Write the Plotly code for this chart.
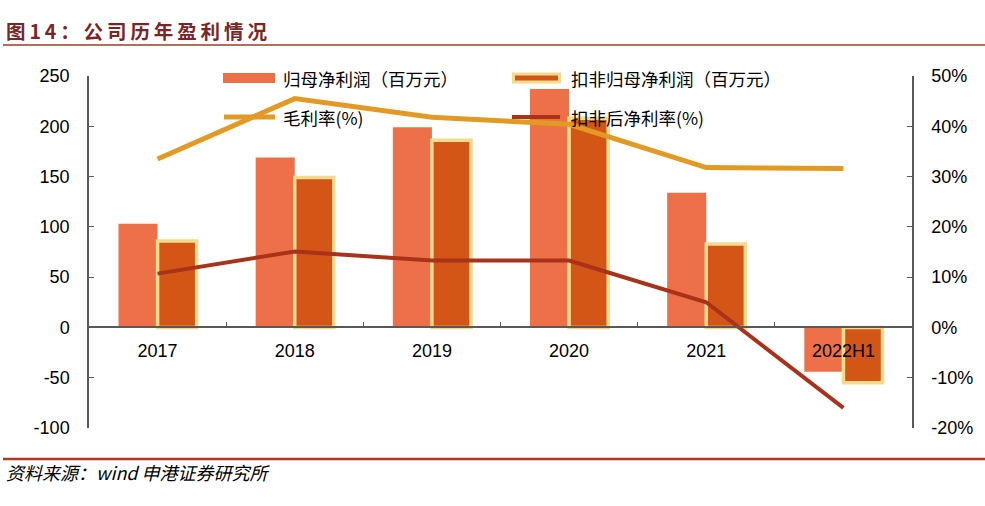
import plotly.graph_objects as go

# ---- data ----
categories = ["2017", "2018", "2019", "2020", "2021", "2022H1"]
net_profit = [103, 169, 199, 237, 134, -44]          # 归母净利润（百万元）
deducted_profit = [86, 149, 186, 208, 83, -55]        # 扣非归母净利润（百万元）
gross_margin = [33.5, 45.5, 41.8, 40.4, 31.8, 31.6]   # 毛利率(%)
deducted_margin = [10.7, 15.1, 13.3, 13.3, 5.0, -16.0]  # 扣非后净利率(%)

left_ticks = [-100, -50, 0, 50, 100, 150, 200, 250]
left_labels = [str(v) for v in left_ticks]
right_ticks = [-20, -10, 0, 10, 20, 30, 40, 50]
right_labels = [f"{v}%" for v in right_ticks]

series_names = ["归母净利润（百万元）", "扣非归母净利润（百万元）", "毛利率(%)", "扣非后净利率(%)"]
title_text = "图14：公司历年盈利情况"
source_text = "资料来源：wind 申港证券研究所"

# ---- styling ----
C_BAR1 = "#EE7049"
C_BAR2 = "#D35616"
C_BAR2_EDGE = "#F3DB8E"
C_GROSS = "#E39A25"
C_NET = "#A8321A"
AX = "#595959"
TICKFONT = dict(size=18, family="Liberation Sans, Arial", color="black")

W, H = 985, 506
L, R, T, B = 89, 912, 76, 428

fig = go.Figure()
fig.add_trace(go.Bar(x=categories, y=net_profit, name=series_names[0],
                     marker=dict(color=C_BAR1, line=dict(width=0)), yaxis="y"))
fig.add_trace(go.Bar(x=categories, y=deducted_profit, name=series_names[1],
                     marker=dict(color=C_BAR2, line=dict(color=C_BAR2_EDGE, width=3.5)), yaxis="y"))
fig.add_trace(go.Scatter(x=categories, y=gross_margin, name=series_names[2], mode="lines",
                         line=dict(color=C_GROSS, width=5), yaxis="y2"))
fig.add_trace(go.Scatter(x=categories, y=deducted_margin, name=series_names[3], mode="lines",
                         line=dict(color=C_NET, width=4), yaxis="y2"))

zero_frac = (0 - left_ticks[0]) / (left_ticks[-1] - left_ticks[0])

fig.update_layout(
    width=W, height=H,
    margin=dict(l=L, r=W - R, t=T, b=H - B, pad=0),
    paper_bgcolor="white", plot_bgcolor="white",
    showlegend=False,
    barmode="group", bargap=0.43, bargroupgap=0,
    font=dict(family="Liberation Sans, Arial, Noto Sans CJK SC", size=15, color="black"),
    xaxis=dict(
        type="category", anchor="free", position=zero_frac,
        showline=True, linecolor=AX, linewidth=1.5,
        ticks="inside", tickson="boundaries", ticklen=5, tickcolor=AX, tickwidth=1.2,
        showgrid=False, zeroline=False, ticklabelstandoff=7,
        tickfont=TICKFONT,
    ),
    yaxis=dict(
        range=[left_ticks[0], left_ticks[-1]], tickvals=left_ticks, ticktext=left_labels,
        showline=True, linecolor=AX, linewidth=1.5,
        ticks="inside", ticklen=5, tickcolor=AX, tickwidth=1.2,
        showgrid=False, zeroline=False, ticklabelstandoff=14,
        tickfont=TICKFONT,
    ),
    yaxis2=dict(
        range=[right_ticks[0], right_ticks[-1]], tickvals=right_ticks, ticktext=right_labels,
        overlaying="y", side="right",
        showline=True, linecolor=AX, linewidth=1.5,
        ticks="inside", ticklen=5, tickcolor=AX, tickwidth=1.2,
        showgrid=False, zeroline=False, ticklabelstandoff=14,
        tickfont=TICKFONT,
    ),
)

def px(x):
    return (x - L) / (R - L)

def py(y):
    return (B - y) / (B - T)

shapes = []
annotations = []

# title + rule
spaced_title = "\u2009".join(title_text)
annotations.append(dict(text=f"<b>{spaced_title}</b>", xref="paper", yref="paper",
                        x=px(4), y=py(30), xanchor="left", yanchor="middle", showarrow=False,
                        font=dict(size=19.5, color="#7B2626", family="Noto Sans CJK SC")))
shapes.append(dict(type="line", xref="paper", yref="paper", x0=px(3), x1=px(985), y0=py(45), y1=py(45),
                   line=dict(color="#A33A22", width=1.5)))
# footer
shapes.append(dict(type="line", xref="paper", yref="paper", x0=px(3), x1=px(985), y0=py(459), y1=py(459),
                   line=dict(color="#B0391B", width=2.5)))
annotations.append(dict(text=f"<i>{source_text}</i>", xref="paper", yref="paper",
                        x=px(4), y=py(472), xanchor="left", yanchor="middle", showarrow=False,
                        font=dict(size=18, color="black", family="Noto Sans CJK SC")))

# legend (manual)
row1, row2 = 78, 117
shapes.append(dict(type="rect", xref="paper", yref="paper", x0=px(223), x1=px(275),
                   y0=py(row1 - 5), y1=py(row1 + 5), fillcolor=C_BAR1, line=dict(width=0), layer="above"))
shapes.append(dict(type="rect", xref="paper", yref="paper", x0=px(512), x1=px(561),
                   y0=py(row1 - 5.5), y1=py(row1 + 5.5), fillcolor=C_BAR2_EDGE, line=dict(width=0), layer="above"))
shapes.append(dict(type="rect", xref="paper", yref="paper", x0=px(515), x1=px(558),
                   y0=py(row1 - 2.5), y1=py(row1 + 2.5), fillcolor=C_BAR2, line=dict(width=0), layer="above"))
shapes.append(dict(type="line", xref="paper", yref="paper", x0=px(224), x1=px(275),
                   y0=py(row2), y1=py(row2), line=dict(color=C_GROSS, width=5), layer="above"))
shapes.append(dict(type="line", xref="paper", yref="paper", x0=px(512), x1=px(560),
                   y0=py(row2), y1=py(row2), line=dict(color=C_NET, width=4), layer="above"))

legend_pos = [(281, row1), (569, row1), (281, row2), (569, row2)]
for name, (lx, ly) in zip(series_names, legend_pos):
    annotations.append(dict(text=name, xref="paper", yref="paper", x=px(lx), y=py(ly),
                            xanchor="left", yanchor="middle", showarrow=False,
                            font=dict(size=17.5, color="black", family="Noto Sans CJK SC")))

fig.update_layout(shapes=shapes, annotations=annotations)

fig.write_html("out.html", config={"displayModeBar": False},
               post_script="document.body.style.margin='0';")
